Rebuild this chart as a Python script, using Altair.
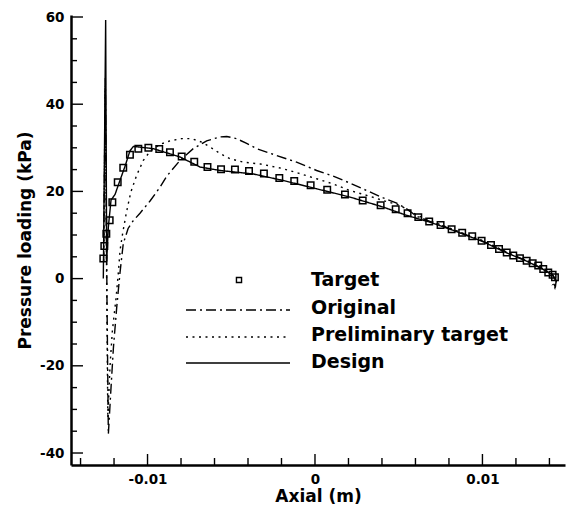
import altair as alt
import pandas as pd

# Pressure loading along the blade, axial position in metres, loading in kPa
target_x = [-0.01264, -0.01258, -0.01246, -0.01226, -0.01210, -0.01178, -0.01145, -0.01105,
            -0.01055, -0.00995, -0.00930, -0.00866, -0.00796, -0.00721, -0.00642, -0.00561,
            -0.00478, -0.00394, -0.00305, -0.00213, -0.00124, -0.00026, 0.00073, 0.00179,
            0.00285, 0.00392, 0.00482, 0.00553, 0.00617, 0.00682, 0.00750, 0.00816,
            0.00879, 0.00939, 0.00995, 0.01051, 0.01099, 0.01145, 0.01184, 0.01224,
            0.01264, 0.01300, 0.01333, 0.01363, 0.01393, 0.01419, 0.01433]
target_y = [4.6, 7.5, 10.3, 13.4, 17.5, 22.1, 25.4, 28.4,
            29.8, 30.0, 29.7, 29.0, 28.0, 26.8, 25.6, 25.1,
            25.0, 24.7, 24.1, 23.1, 22.4, 21.4, 20.4, 19.3,
            17.9, 16.8, 15.9, 15.0, 14.1, 13.1, 12.3, 11.3,
            10.5, 9.7, 8.7, 7.7, 6.8, 6.0, 5.3, 4.7,
            4.1, 3.5, 3.0, 2.2, 1.4, 0.9, 0.3]

original_x = [-0.01262, -0.01252, -0.01242, -0.01234, -0.01218, -0.01204, -0.01184, -0.01164,
              -0.01145, -0.01116, -0.01085, -0.01045, -0.00985, -0.00925, -0.00885, -0.00806,
              -0.00727, -0.00647, -0.00567, -0.00527, -0.00468, -0.00408, -0.00348, -0.00249,
              -0.00110, 0.00010, 0.00109, 0.00209, 0.00309, 0.00408, 0.00488, 0.00548,
              0.00607, 0.00682, 0.00816, 0.00995, 0.01145, 0.01264, 0.01363, 0.01419,
              0.01442, 0.01432, 0.01416]
original_y = [4.0, 46.0, -5.0, -35.7, -25.0, -16.0, -6.6, 1.5,
              8.0, 11.5, 13.3, 15.0, 17.8, 21.0, 23.5, 27.1,
              29.8, 31.6, 32.5, 32.6, 32.1, 31.0, 29.8, 28.5,
              26.7, 24.8, 23.5, 21.9, 20.2, 18.5, 17.3, 16.0,
              14.3, 13.2, 11.3, 8.7, 6.0, 4.1, 2.2, 0.9,
              -0.5, -2.2, -1.4]

prelim_x = [-0.01262, -0.01253, -0.01243, -0.01237, -0.01224, -0.01210, -0.01188, -0.01174,
            -0.01164, -0.01148, -0.01126, -0.01100, -0.01065, -0.01025, -0.00985, -0.00925,
            -0.00866, -0.00796, -0.00736, -0.00676, -0.00627, -0.00567, -0.00507, -0.00428,
            -0.00328, -0.00200, -0.00100, 0.00010, 0.00109, 0.00209, 0.00309, 0.00408,
            0.00507, 0.00607, 0.00682, 0.00816, 0.00995, 0.01145, 0.01264, 0.01363,
            0.01419, 0.01441, 0.01430, 0.01418]
prelim_y = [4.0, 44.0, -6.0, -32.0, -20.0, -12.0, -4.5, 1.5,
            6.5, 10.5, 15.2, 19.8, 23.7, 27.1, 29.2, 30.8,
            31.6, 32.1, 32.1, 31.3, 30.2, 28.7, 27.5, 26.7,
            26.3, 25.3, 24.2, 22.9, 21.7, 20.2, 19.1, 17.9,
            16.8, 14.6, 13.3, 11.4, 8.8, 6.1, 4.2, 2.3,
            0.9, -0.4, -2.0, -1.3]

design_x = [-0.01264, -0.01250, -0.01244, -0.01234, -0.01218, -0.01194, -0.01174, -0.01134,
            -0.01105, -0.01085, -0.01055, -0.00965, -0.00806, -0.00687, -0.00567, -0.00368,
            -0.00189, 0.00010, 0.00209, 0.00408, 0.00548, 0.00682, 0.00816, 0.00995,
            0.01145, 0.01264, 0.01363, 0.01419, 0.01440, 0.01436, 0.01424]
design_y = [0.0, 59.3, 4.0, 11.8, 18.0, 19.3, 21.5, 25.8,
            29.3, 30.3, 30.2, 29.8, 27.9, 25.6, 24.8, 24.0,
            22.5, 20.6, 18.7, 16.4, 14.5, 13.0, 11.2, 8.6,
            5.9, 4.0, 2.1, 0.8, -0.6, -1.8, -1.2]

series_names = ["Target", "Original", "Preliminary target", "Design"]

# tick positions
x_major = [-0.01, 0.0, 0.01]
x_minor = [-0.014, -0.012, -0.008, -0.006, -0.004, -0.002,
           0.002, 0.004, 0.006, 0.008, 0.012, 0.014]
y_major = [-40, -20, 0, 20, 40, 60]
y_minor = [-35, -30, -25, -15, -10, -5, 5, 10, 15, 25, 30, 35, 45, 50, 55]

FONT = "DejaVu Sans"
W, H = 494, 450


def curve(name, xs, ys):
    return pd.DataFrame({"axial": xs, "loading": ys, "series": name, "i": list(range(len(xs)))})


curves = pd.concat([
    curve(series_names[1], original_x, original_y),
    curve(series_names[2], prelim_x, prelim_y),
    curve(series_names[3], design_x, design_y),
], ignore_index=True)
targets = pd.DataFrame({"axial": target_x, "loading": target_y})

x_scale = alt.Scale(domain=[-0.01457, 0.01493], nice=False, zero=False)
y_scale = alt.Scale(domain=[-42.75, 60.46], nice=False, zero=False)

x_axis = alt.Axis(
    values=x_major, ticks=False, tickSize=0, grid=False, labelOverlap=False, labelFlush=False,
    domainColor="black", domainWidth=2.5,
    labelFont=FONT, labelFontWeight="bold", labelFontSize=13.5, labelColor="black", labelPadding=7,
    labelExpr="datum.value == 0 ? '0' : (datum.value < 0 ? '-' : '') + format(abs(datum.value), '.2f')",
    title="Axial (m)", titleFont=FONT, titleFontWeight="bold", titleFontSize=17,
    titleColor="black", titlePadding=3,
)
y_axis = alt.Axis(
    values=y_major, ticks=False, tickSize=0, grid=False, labelOverlap=False, labelFlush=False,
    domainColor="black", domainWidth=2.5,
    labelFont=FONT, labelFontWeight="bold", labelFontSize=13.5, labelColor="black", labelPadding=7,
    labelExpr="(datum.value < 0 ? '-' : '') + abs(datum.value)",
    title="Pressure loading (kPa)", titleFont=FONT, titleFontWeight="bold", titleFontSize=17,
    titleColor="black", titlePadding=5,
)

X = alt.X("axial:Q", scale=x_scale, axis=x_axis)
Y = alt.Y("loading:Q", scale=y_scale, axis=y_axis)

dash_range = [[10, 4, 2, 4], [2, 4.5], [1, 0]]

lines = alt.Chart(curves).mark_line(color="black", strokeWidth=1.4).encode(
    x=X, y=Y,
    strokeDash=alt.StrokeDash("series:N", scale=alt.Scale(domain=series_names[1:], range=dash_range), legend=None),
    detail="series:N",
    order=alt.Order("i:Q"),
)

points = alt.Chart(targets).mark_point(
    shape="square", size=42, filled=False, color="black", strokeWidth=1.5, opacity=1
).encode(x=X, y=Y)


# inward-pointing ticks drawn as short rules
def ticks_x(values, length):
    df = pd.DataFrame({"axial": values})
    return alt.Chart(df).mark_rule(color="black", strokeWidth=1.4).encode(
        x=X, y=alt.value(H), y2=alt.value(H - length),
    )


def ticks_y(values, length):
    df = pd.DataFrame({"loading": values})
    return alt.Chart(df).mark_rule(color="black", strokeWidth=1.4).encode(
        y=Y, x=alt.value(0), x2=alt.value(length),
    )


# legend, placed inside the plot area
def legend_text(label, ypix):
    return alt.Chart(pd.DataFrame({"label": [label]})).mark_text(
        align="left", baseline="middle", font=FONT, fontWeight="bold", fontSize=19, color="black"
    ).encode(x=alt.value(240), y=alt.value(ypix), text="label:N")


def legend_line(label, ypix, dash):
    return alt.Chart(pd.DataFrame({"label": [label]})).mark_rule(
        color="black", strokeWidth=1.4, strokeDash=dash
    ).encode(x=alt.value(115), x2=alt.value(219), y=alt.value(ypix))


legend_square = alt.Chart(pd.DataFrame({"label": [series_names[0]]})).mark_point(
    shape="square", size=26, filled=False, color="black", strokeWidth=1.4, opacity=1
).encode(x=alt.value(168), y=alt.value(265))

legend_layers = [
    legend_square,
    legend_text(series_names[0], 265),
    legend_line(series_names[1], 295, dash_range[0]),
    legend_text(series_names[1], 293),
    legend_line(series_names[2], 322, dash_range[1]),
    legend_text(series_names[2], 320),
    legend_line(series_names[3], 348, dash_range[2]),
    legend_text(series_names[3], 347),
]

chart = alt.layer(
    lines,
    points,
    ticks_x(x_major, 11),
    ticks_x(x_minor, 7),
    ticks_y(y_major, 12),
    ticks_y(y_minor, 6),
    *legend_layers,
).properties(
    width=W, height=H,
    autosize=alt.AutoSizeParams(type="none"),
    padding={"left": 71, "top": 15, "right": 6, "bottom": 46},
    background="white",
).configure_view(stroke=None)

chart.save("out.html", embed_options={"renderer": "svg", "actions": False})
